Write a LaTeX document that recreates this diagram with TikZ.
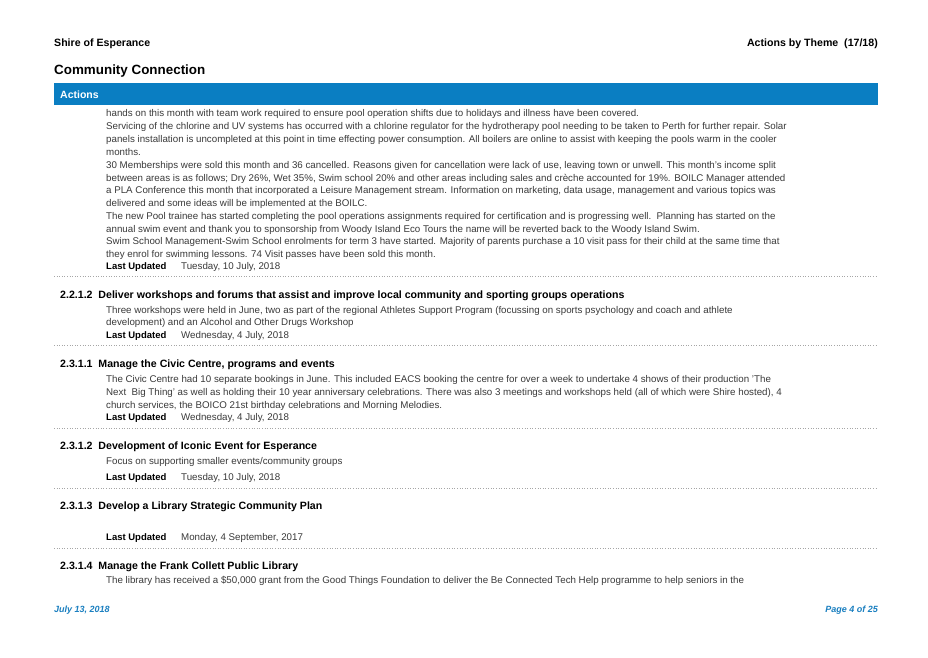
\documentclass[tikz,border=0pt]{standalone}
\usepackage{fontspec}
\setmainfont{Liberation Sans}
\definecolor{barblue}{HTML}{0A7EC2}
\definecolor{txt}{HTML}{3A3A3A}
\definecolor{foot}{HTML}{1A7FC0}
\begin{document}
\begin{tikzpicture}[x=1pt,y=-1pt,
  body/.style={anchor=base west,inner sep=0,font=\fontsize{9.75}{10}\selectfont,text=txt},
  head/.style={anchor=base west,inner sep=0,font=\fontsize{10.6}{12}\selectfont\bfseries,text=black},
  lu/.style={anchor=base west,inner sep=0,font=\fontsize{9.5}{10}\selectfont\bfseries,text=black},
  sep/.style={draw=gray!70,line width=0.5pt,dash pattern=on 0.6pt off 2pt}]
\useasboundingbox (0,0) rectangle (928,657);
\fill[white] (0,0) rectangle (928,657);
\node[head] (h1) at (54,46) {Shire of Esperance};
\node[head,anchor=base east] (h2) at (878,46) {Actions by Theme\ \ (17/18)};
\node[anchor=base west,inner sep=0,font=\fontsize{13.4}{15}\selectfont\bfseries] (cc) at (54,74.5) {Community Connection};
\fill[barblue] (54,83) rectangle (878,105);
\node[anchor=base west,inner sep=0,font=\fontsize{10.5}{12}\selectfont\bfseries,text=white] (act) at (60,98) {Actions};
\foreach \y/\t in {
116/{hands on this month with team work required to ensure pool operation shifts due to holidays and illness have been covered.},
129/{Servicing of the chlorine and UV systems has occurred with a chlorine regulator for the hydrotherapy pool needing to be taken to Perth for further repair. Solar},
142/{panels installation is uncompleted at this point in time effecting power consumption. All boilers are online to assist with keeping the pools warm in the cooler},
155/{months.},
168/{30 Memberships were sold this month and 36 cancelled. Reasons given for cancellation were lack of use, leaving town or unwell. This month's income split},
181/{between areas is as follows; Dry 26\%, Wet 35\%, Swim school 20\% and other areas including sales and crèche accounted for 19\%. BOILC Manager attended},
193/{a PLA Conference this month that incorporated a Leisure Management stream. Information on marketing, data usage, management and various topics was},
206/{delivered and some ideas will be implemented at the BOILC.},
219/{The new Pool trainee has started completing the pool operations assignments required for certification and is progressing well.\ \ Planning has started on the},
232/{annual swim event and thank you to sponsorship from Woody Island Eco Tours the name will be reverted back to the Woody Island Swim.},
244/{Swim School Management-Swim School enrolments for term 3 have started. Majority of parents purchase a 10 visit pass for their child at the same time that},
257/{they enrol for swimming lessons. 74 Visit passes have been sold this month.},
313/{Three workshops were held in June, two as part of the regional Athletes Support Program (focussing on sports psychology and coach and athlete},
325/{development) and an Alcohol and Other Drugs Workshop},
382/{The Civic Centre had 10 separate bookings in June. This included EACS booking the centre for over a week to undertake 4 shows of their production 'The},
395/{Next\ \ Big Thing' as well as holding their 10 year anniversary celebrations. There was also 3 meetings and workshops held (all of which were Shire hosted), 4},
408/{church services, the BOICO 21st birthday celebrations and Morning Melodies.},
464/{Focus on supporting smaller events/community groups},
583/{The library has received a \$50,000 grant from the Good Things Foundation to deliver the Be Connected Tech Help programme to help seniors in the}}
  \node[body] at (106,\y) {\t};
\foreach \y/\d in {269/{Tuesday, 10 July, 2018},338/{Wednesday, 4 July, 2018},420/{Wednesday, 4 July, 2018},480/{Tuesday, 10 July, 2018},540/{Monday, 4 September, 2017}}{
  \node[lu] at (106,\y) {Last Updated};
  \node[body] at (181,\y) {\d};}
\foreach \y/\t in {298/{2.2.1.2\ \ Deliver workshops and forums that assist and improve local community and sporting groups operations},
367/{2.3.1.1\ \ Manage the Civic Centre, programs and events},
449/{2.3.1.2\ \ Development of Iconic Event for Esperance},
509/{2.3.1.3\ \ Develop a Library Strategic Community Plan},
569/{2.3.1.4\ \ Manage the Frank Collett Public Library}}
  \node[head] at (60,\y) {\t};
\foreach \y in {276,345,428,488,548}
  \draw[sep] (54,\y) -- (878,\y);
\node[anchor=base west,inner sep=0,font=\fontsize{9}{10}\selectfont\bfseries\itshape,text=foot] (fd) at (54,612) {July 13, 2018};
\node[anchor=base east,inner sep=0,font=\fontsize{9}{10}\selectfont\bfseries\itshape,text=foot] (fp) at (878,612) {Page 4 of 25};
\end{tikzpicture}
\end{document}
